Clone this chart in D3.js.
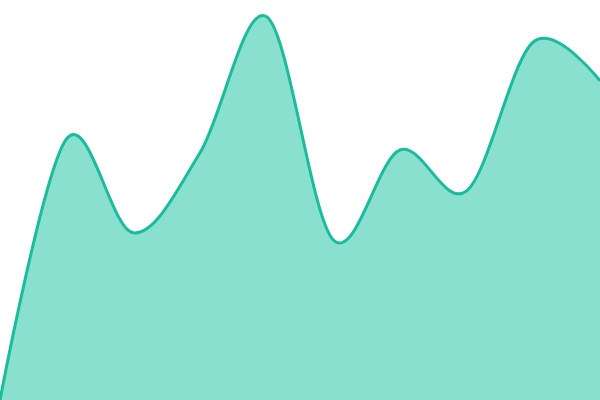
<!DOCTYPE html>
<html lang="en">
<head>
  <meta charset="UTF-8">
  <title>Area</title>
  <script src="https://d3js.org/d3.v7.min.js"></script>
  <style>
    html, body { margin: 0; padding: 0; background: #fff; overflow: hidden; }
  </style>
</head>
<body>
<script type="text/javascript">
    // series (y domain 0..100)
    var categories = [0, 1, 2, 3, 4, 5, 6, 7, 8, 9];
    var values = [0, 65.3, 41.8, 61.8, 95.8, 40, 62.5, 52.3, 89.5, 79.8];

    var width = 600, height = 400;

    var svg = d3.select("body").append("svg")
                .attr("width", width)
                .attr("height", height);

    var x = d3.scaleLinear()
              .domain(d3.extent(categories))
              .range([0, width]);

    var y = d3.scaleLinear()
              .domain([0, 100])
              .range([height, 0]);

    var data = categories.map(function(c, i){ return {c: c, v: values[i]}; });

    var area = d3.area()
                 .curve(d3.curveCardinal)
                 .x(function(d){ return x(d.c); })
                 .y0(height)
                 .y1(function(d){ return y(d.v); });

    var line = d3.line()
                 .curve(d3.curveCardinal)
                 .x(function(d){ return x(d.c); })
                 .y(function(d){ return y(d.v); });

    svg.append("path")
       .datum(data)
       .attr("d", area)
       .attr("fill", "#8ae0ce");

    svg.append("path")
       .datum(data)
       .attr("d", line)
       .attr("fill", "none")
       .attr("stroke", "#1abc9c")
       .attr("stroke-width", 3);
</script>
</body>
</html>
